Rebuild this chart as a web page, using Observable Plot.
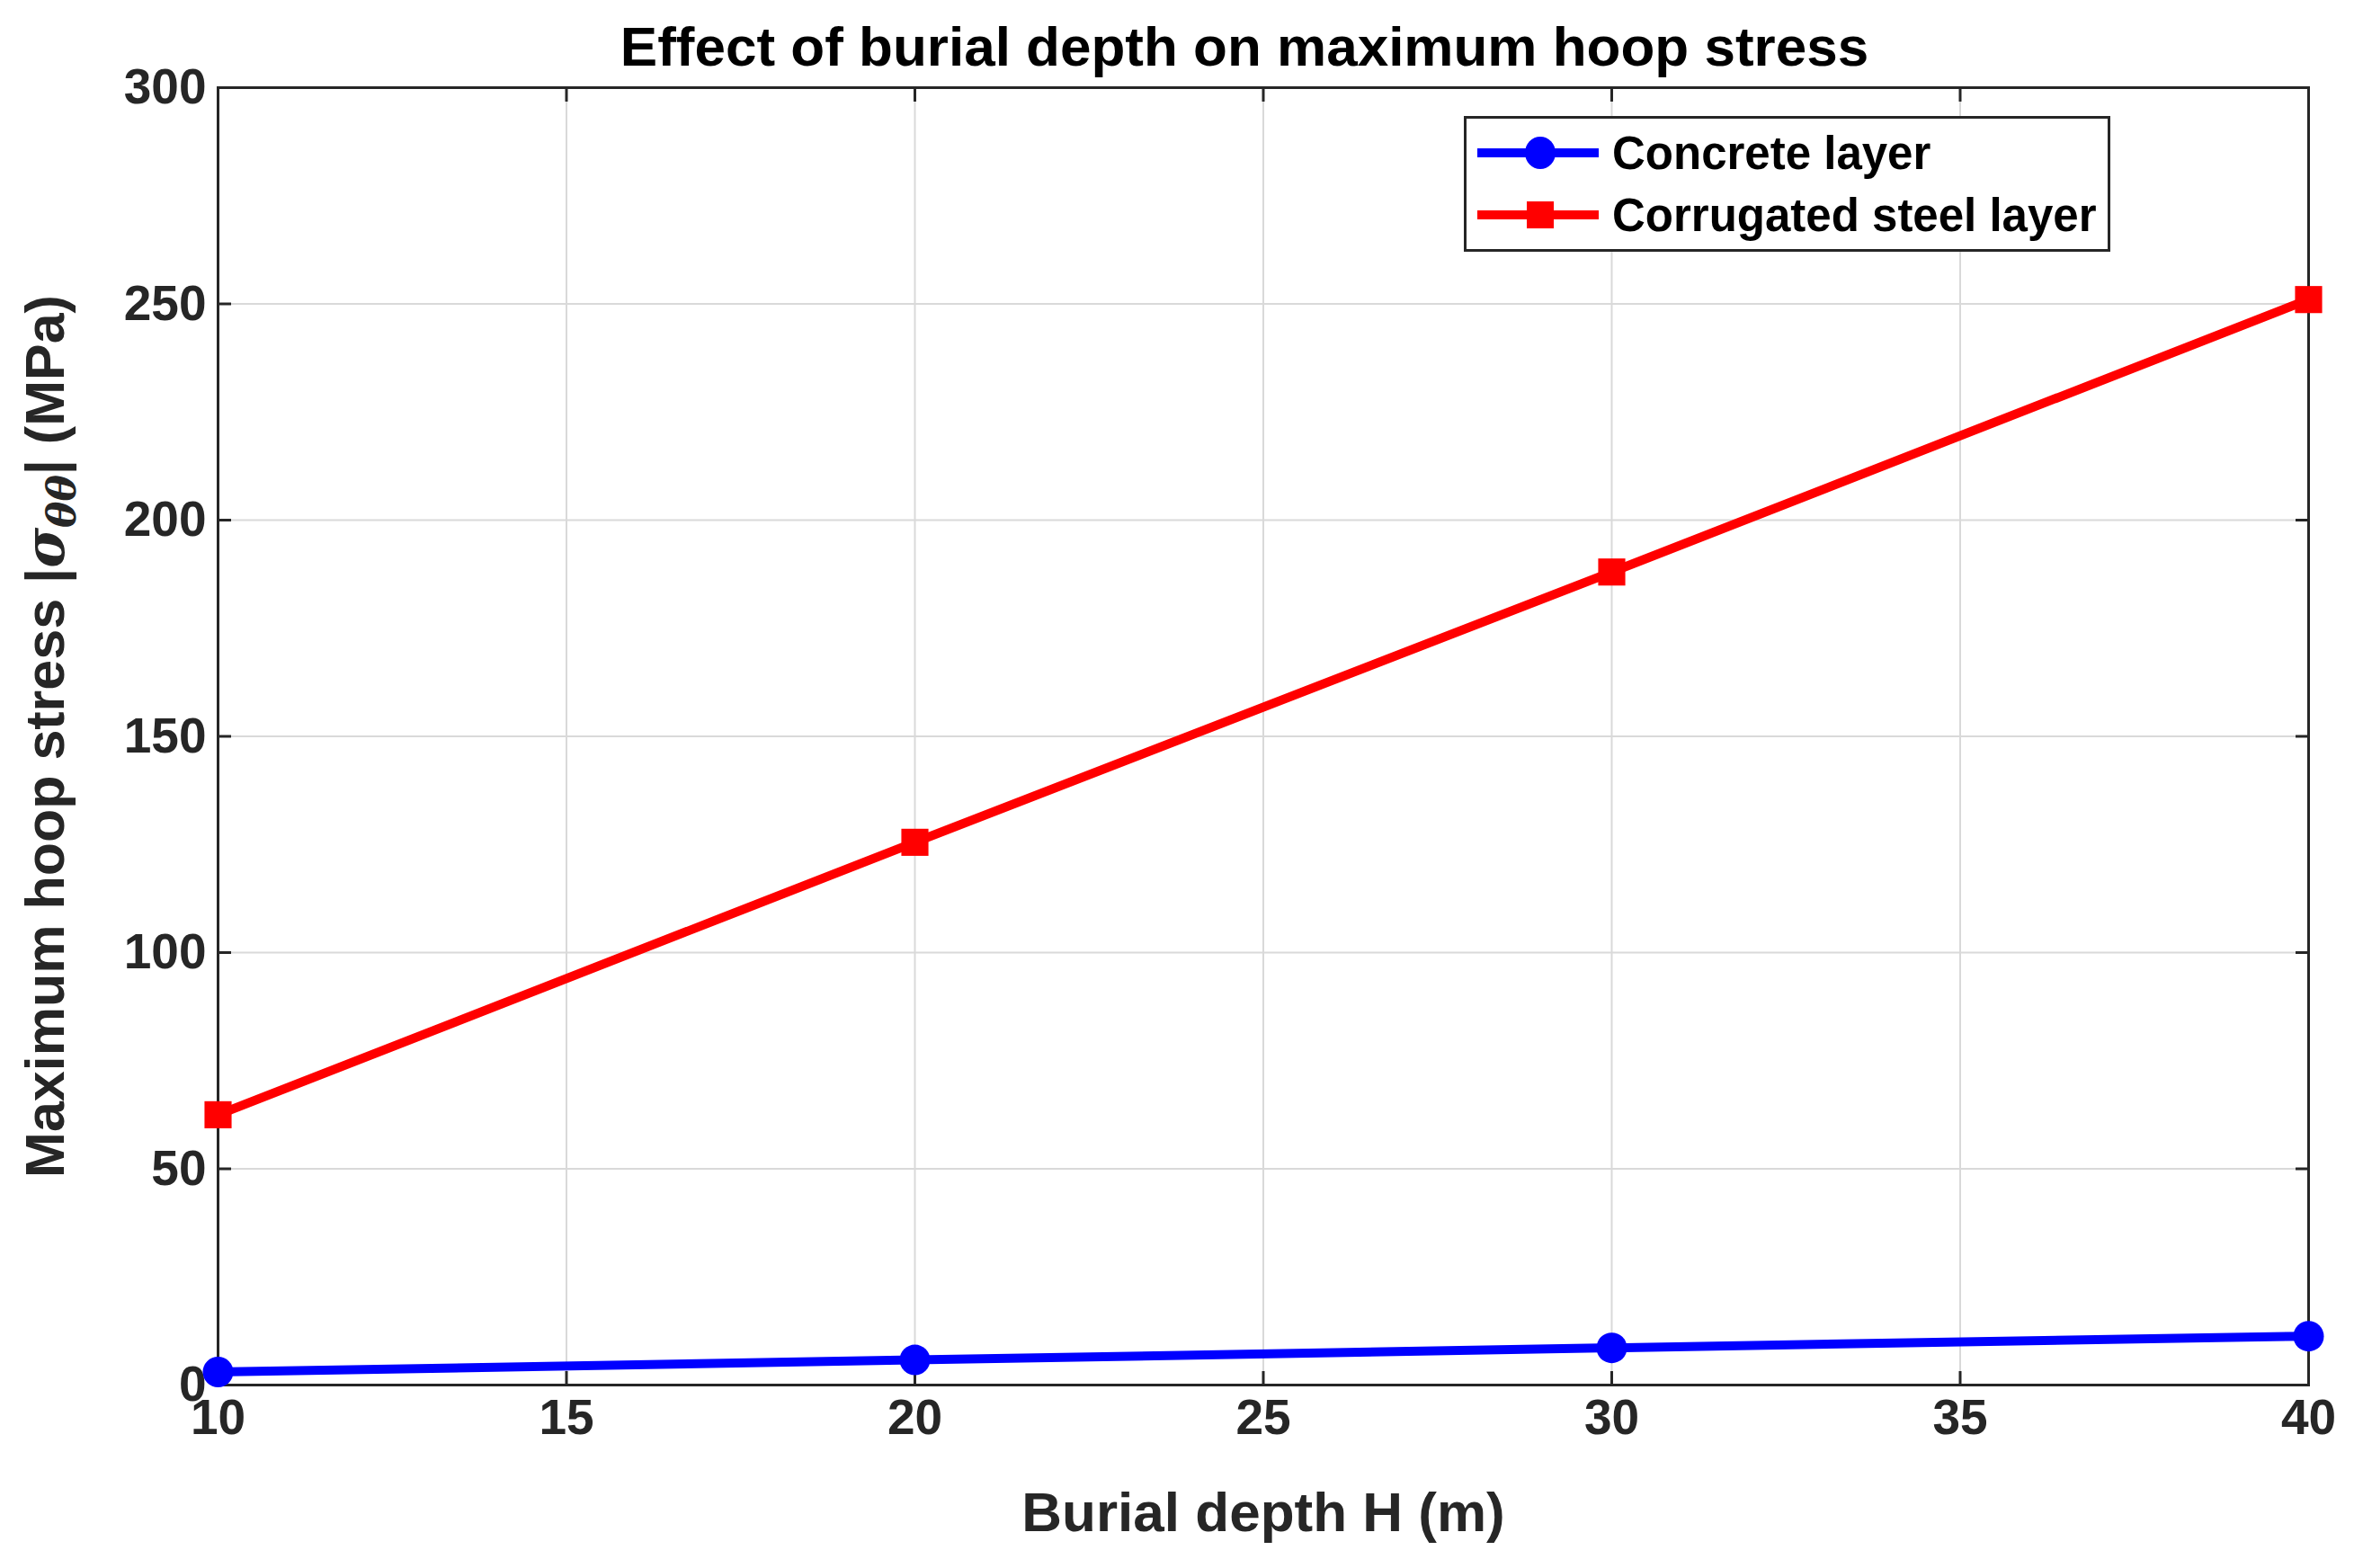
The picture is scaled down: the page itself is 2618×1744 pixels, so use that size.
<!DOCTYPE html>
<html><head><meta charset="utf-8">
<script src="https://cdn.jsdelivr.net/npm/d3@7"></script>
<script src="https://cdn.jsdelivr.net/npm/@observablehq/plot@0.6"></script>
<style>
body{margin:0;background:#fff;font-family:"Liberation Sans",Arial,sans-serif;}
#wrap{position:relative;width:2618px;height:1744px;}
#title{height:70px;line-height:104px;text-align:center;font-weight:bold;font-size:62px;color:#000;padding-left:150px;box-sizing:border-box;white-space:nowrap}
#legend{position:absolute;left:1628px;top:129px;}
</style></head><body>
<div id="wrap"><div id="title">Effect of burial depth on maximum hoop stress</div><div id="chart"></div><div id="legend"></div></div>
<script>
const depth=[10,20,30,40];
const concrete=[3.0,5.8,8.6,11.3];
const steel=[62.5,125.5,188.0,251.0];
const xTicks=[10,15,20,25,30,35,40];
const yTicks=[0,50,100,150,200,250,300];
const series=[{name:"Concrete layer",color:"#0000ff",vals:concrete,symbol:"circle"},{name:"Corrugated steel layer",color:"#ff0000",vals:steel,symbol:"square"}];
const data=series.flatMap(s=>depth.map((d,i)=>({x:d,y:s.vals[i],name:s.name})));
const conc=data.filter(d=>d.name==="Concrete layer"), st=data.filter(d=>d.name!=="Concrete layer");
const fs="Liberation Sans, Arial, sans-serif";
const plot=Plot.plot({
 width:2618,height:1674,marginTop:27,marginBottom:204,marginLeft:242,marginRight:51,
 style:{fontFamily:fs,fontWeight:"bold",fontSize:"55px",color:"#262626",background:"#fff"},
 x:{domain:[10,40],ticks:xTicks},
 y:{domain:[0,300],ticks:yTicks},
 marks:[
  Plot.gridX(xTicks,{stroke:"#d9d9d9",strokeOpacity:1,strokeWidth:2}),
  Plot.gridY(yTicks,{stroke:"#d9d9d9",strokeOpacity:1,strokeWidth:2}),
  Plot.axisX(xTicks,{tickSize:-15,tickPadding:30,strokeWidth:3,stroke:"#262626",fill:"#262626",label:"Burial depth H (m)",labelAnchor:"center",labelOffset:162,labelArrow:"none"}),
  Plot.axisX(xTicks,{anchor:"top",tickSize:-15,text:null,strokeWidth:3,stroke:"#262626",label:null}),
  Plot.axisY(yTicks,{tickSize:-15,tickPadding:28,strokeWidth:3,stroke:"#262626",fill:"#262626",label:"Maximum hoop stress |σθθ| (MPa)",labelAnchor:"center",labelOffset:215,labelArrow:"none"}),
  Plot.axisY(yTicks,{anchor:"right",tickSize:-15,text:null,strokeWidth:3,stroke:"#262626",label:null}),
  Plot.frame({stroke:"#262626",strokeWidth:3}),
  Plot.line(conc,{x:"x",y:"y",stroke:"#0000ff",strokeWidth:10}),
  Plot.dot(conc,{x:"x",y:"y",fill:"#0000ff",r:17,symbol:"circle"}),
  Plot.line(st,{x:"x",y:"y",stroke:"#ff0000",strokeWidth:10}),
  Plot.dot(st,{x:"x",y:"y",fill:"#ff0000",r:17,symbol:"square"})
 ]
});
document.getElementById("chart").appendChild(plot);
plot.querySelectorAll("text").forEach(t=>{
 const s=t.textContent;
 if(s==="Burial depth H (m)"){t.style.fontSize="62px";t.setAttribute("fill","#262626");}
 if(s.startsWith("Maximum hoop")){
  t.style.fontSize="61px";t.setAttribute("fill","#262626");
  t.textContent="";
  const NS="http://www.w3.org/2000/svg";
  const add=(txt,attrs)=>{const e=document.createElementNS(NS,"tspan");e.textContent=txt;for(const k in attrs)e.setAttribute(k,attrs[k]);t.appendChild(e);return e;};
  add("Maximum hoop stress |",{});
  add("σ",{"font-style":"italic","font-family":"DejaVu Serif"});
  add("θθ",{"font-style":"italic","font-family":"DejaVu Serif","font-size":"44px","dy":"13"});
  add("| (MPa)",{"dy":"-13"});
 }
});
const lg=d3.select("#legend").append("svg").attr("width",720).attr("height",152);
lg.append("rect").attr("x",1.5).attr("y",1.5).attr("width",716).attr("height",148).attr("fill","#fff").attr("stroke","#262626").attr("stroke-width",3);
series.forEach((s,i)=>{
 const y=41+i*69;
 lg.append("line").attr("x1",15).attr("x2",150).attr("y1",y).attr("y2",y).attr("stroke",s.color).attr("stroke-width",10);
 if(s.symbol==="circle")lg.append("ellipse").attr("cx",85).attr("cy",y).attr("rx",17).attr("ry",18).attr("fill",s.color);
 else lg.append("rect").attr("x",70).attr("y",y-15).attr("width",30).attr("height",30).attr("fill",s.color);
 lg.append("text").attr("x",165).attr("y",y+18).attr("font-family",fs).attr("font-weight","bold").attr("font-size","51px").attr("fill","#000").text(s.name);
});
</script></body></html>
